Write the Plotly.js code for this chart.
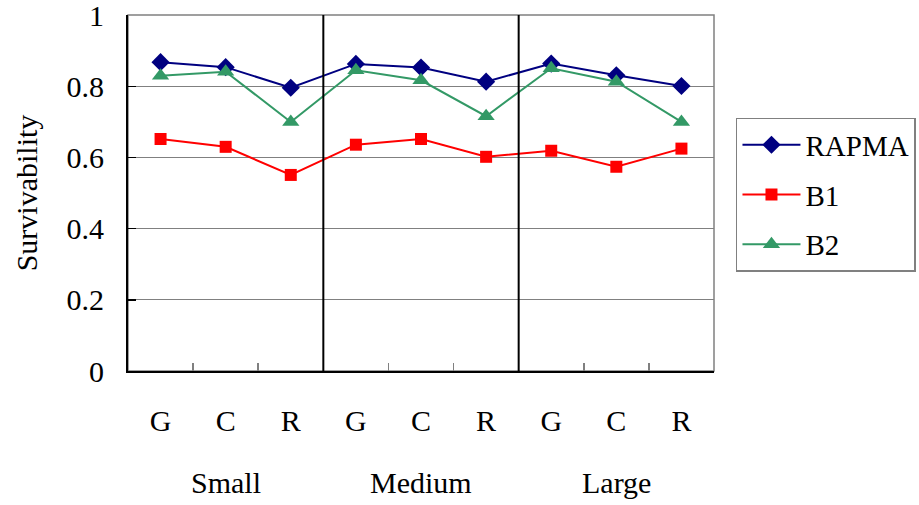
<!DOCTYPE html>
<html>
<head>
<meta charset="utf-8">
<script src="https://cdn.plot.ly/plotly-3.0.1.min.js"></script>
<style>
html,body{margin:0;padding:0;background:#fff}
#chart{width:919px;height:505px}
#chart text{font-family:'Liberation Serif','Times New Roman',serif !important;}
</style>
</head>
<body>
<div id="chart"></div>
<script>
// Data
const subCategories = ["G", "C", "R", "G", "C", "R", "G", "C", "R"];
const groups = ["Small", "Medium", "Large"];
const seriesNames = ["RAPMA", "B1", "B2"];
const rapma = [0.868, 0.854, 0.796, 0.863, 0.853, 0.813, 0.864, 0.831, 0.801];
const b1    = [0.652, 0.630, 0.551, 0.636, 0.652, 0.602, 0.619, 0.574, 0.625];
const b2    = [0.830, 0.841, 0.700, 0.845, 0.817, 0.716, 0.851, 0.813, 0.700];
const yTicks = [0, 0.2, 0.4, 0.6, 0.8, 1];
const yTickText = ["0", "0.2", "0.4", "0.6", "0.8", "1"];

const FONT = "Liberation Serif";
const xPos = subCategories.map((_, i) => i + 0.5);

const styles = [
  {color: "#000080", symbol: "diamond", size: 14},
  {color: "#FF0000", symbol: "square", size: 12},
  {color: "#339966", symbol: "triangle-up", size: 15}
];
const values = [rapma, b1, b2];

const traces = values.map((v, k) => ({
  x: xPos, y: v, name: seriesNames[k], type: "scatter", mode: "lines+markers",
  line: {color: styles[k].color, width: 2},
  marker: {color: styles[k].color, symbol: styles[k].symbol, size: styles[k].size},
  legendgroup: "g" + k, xaxis: "x", yaxis: "y"
}));
traces.push({x: [0, 9], y: [null, null], xaxis: "x2", yaxis: "y", showlegend: false, hoverinfo: "skip", mode: "lines"});

const shapes = [
  {type: "rect", xref: "paper", yref: "paper", x0: 0, x1: 1, y0: 0, y1: 1, line: {color: "#808080", width: 1.5}, layer: "below"},
  {type: "line", xref: "x", yref: "paper", x0: 3, x1: 3, y0: 0, y1: 1, line: {color: "#000", width: 2}},
  {type: "line", xref: "x", yref: "paper", x0: 6, x1: 6, y0: 0, y1: 1, line: {color: "#000", width: 2}}
];

const annotations = groups.map((g, i) => ({
  x: 1.5 + 3 * i, xref: "x", y: 0, yref: "paper", yshift: -111, text: g, showarrow: false,
  font: {family: FONT, size: 30, color: "#000"}, xanchor: "center", yanchor: "middle"
}));

const layout = {
  width: 919, height: 505,
  margin: {l: 128, r: 205, t: 15, b: 134, autoexpand: false},
  paper_bgcolor: "#fff", plot_bgcolor: "#fff",
  font: {family: FONT, size: 29, color: "#000"},
  xaxis: {
    range: [0, 9], tickmode: "array", tickvals: xPos, ticktext: subCategories,
    ticks: "", showgrid: false, zeroline: false, showline: true, linecolor: "#000", linewidth: 2,
    ticklabelstandoff: 22, tickfont: {family: FONT, size: 30, color: "#000"}, automargin: false
  },
  xaxis2: {
    overlaying: "x", range: [0, 9], tickmode: "array", tickvals: [1, 2, 4, 5, 7, 8],
    ticks: "inside", ticklen: 8, tickcolor: "#808080", tickwidth: 1.5, showticklabels: false,
    showgrid: false, zeroline: false, showline: false, anchor: "y", side: "bottom"
  },
  yaxis: {
    range: [0, 1.0005], tickmode: "array", tickvals: yTicks, ticktext: yTickText,
    ticks: "inside", ticklen: 8, tickcolor: "#000", tickwidth: 1.5,
    showgrid: true, gridcolor: "#808080", gridwidth: 1.2, zeroline: false,
    showline: true, linecolor: "#000", linewidth: 2, ticklabelstandoff: 16,
    ticklabeloverflow: "allow",
    tickfont: {family: FONT, size: 30, color: "#000"}, automargin: false,
    title: {text: "Survivability", font: {family: FONT, size: 30, color: "#000"}, standoff: 20}
  },
  showlegend: true,
  legend: {
    x: 1.0375, xanchor: "left", y: 0.711, yanchor: "top",
    bordercolor: "#808080", borderwidth: 1.5, bgcolor: "#fff",
    font: {family: FONT, size: 29, color: "#000"},
    traceorder: "grouped", tracegroupgap: 9, itemwidth: 58
  },
  shapes: shapes,
  annotations: annotations
};

Plotly.newPlot("chart", traces, layout, {displayModeBar: false, staticPlot: true});
</script>
</body>
</html>
